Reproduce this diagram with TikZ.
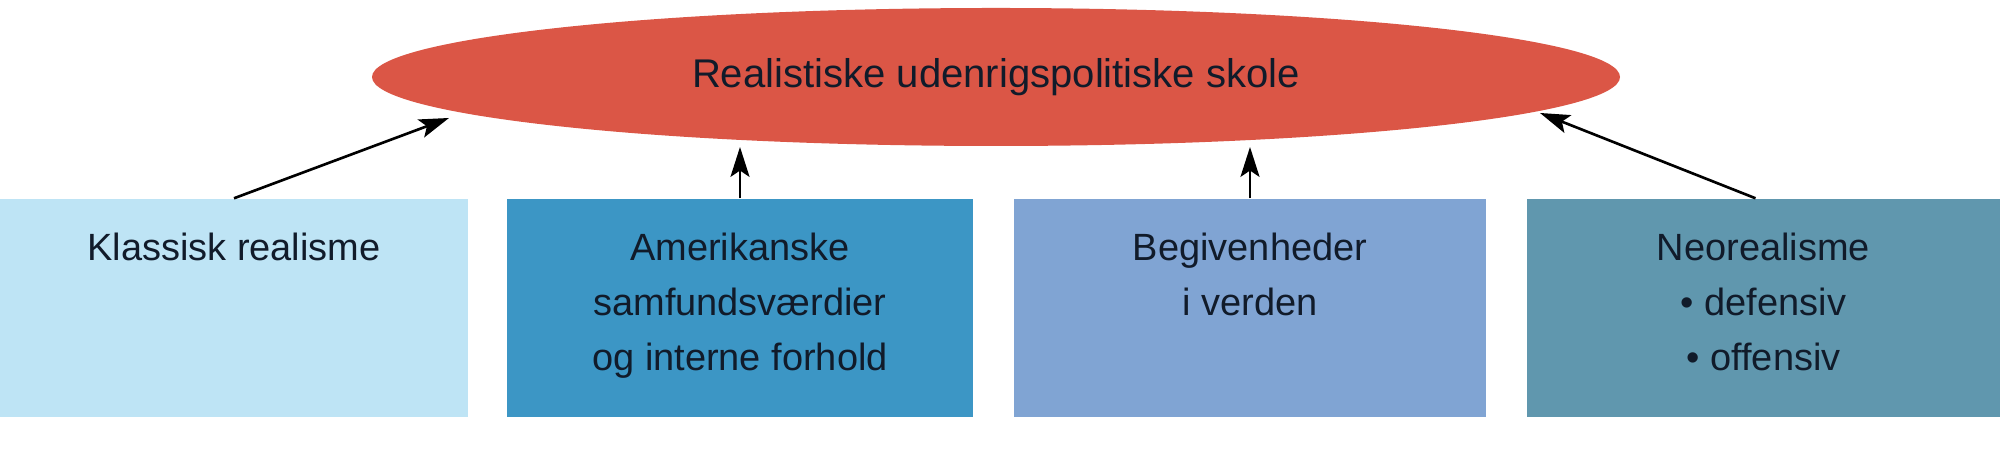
\documentclass[tikz,border=0pt]{standalone}
\usepackage{fontspec}
\setmainfont{Liberation Sans}
\usepackage{tikz}
\usetikzlibrary{shapes.geometric,positioning,arrows.meta}

\definecolor{skolerod}{HTML}{DB5646}
\definecolor{klassisk}{HTML}{BEE4F5}
\definecolor{amerika}{HTML}{3C96C5}
\definecolor{begiven}{HTML}{80A4D3}
\definecolor{neoreal}{HTML}{6097AE}
\definecolor{mork}{HTML}{111B2A}

\begin{document}
\begin{tikzpicture}[
    boks/.style={rectangle, minimum height=2.18cm, inner sep=0pt},
    tekst/.style={inner sep=0pt, align=center, text=mork, font=\fontsize{10.8}{15.6}\selectfont},
    pil/.style={-{Stealth[length=8.5pt,width=5.4pt,inset=1.8pt]}, line width=0.75pt}]
                      \useasboundingbox (0,0) rectangle (20,4.57);
                      \node[ellipse, fill=skolerod, minimum width=12.48cm, minimum height=1.38cm, inner sep=0pt, text=mork, font=\fontsize{11.4}{14}\selectfont] (skole) at (9.96,3.80) {Realistiske udenrigspolitiske skole};
                      \node[boks, fill=klassisk, minimum width=4.68cm] (b1) at (2.34,1.49) {};
                      \node[boks, fill=amerika, minimum width=4.66cm] (b2) at (7.40,1.49) {};
                      \node[boks, fill=begiven, minimum width=4.72cm] (b3) at (12.50,1.49) {};
                      \node[boks, fill=neoreal, minimum width=4.73cm] (b4) at (17.635,1.49) {};
                      \node[tekst, below=0.34cm of b1.north] (t1) {Klassisk realisme};
                      \node[tekst, below=0.34cm of b2.north] (t2) {Amerikanske\\samfundsværdier\\og interne forhold};
                      \node[tekst, below=0.34cm of b3.north] (t3) {Begivenheder\\i verden};
                      \node[tekst, below=0.34cm of b4.north] (t4) {Neorealisme\\• defensiv\\• offensiv};
                      \coordinate (e1) at (4.49,3.39);
                      \coordinate (e2) at (7.40,3.10);
                      \coordinate (e3) at (12.50,3.10);
                      \coordinate (e4) at (15.40,3.44);
                      \draw[pil] (b1.north) -- (e1);
                      \draw[pil] (b2.north) -- (e2);
                      \draw[pil] (b3.north) -- (e3);
                      \draw[pil] ([xshift=-0.08cm]b4.north) -- (e4);
                  \end{tikzpicture}
\end{document}
